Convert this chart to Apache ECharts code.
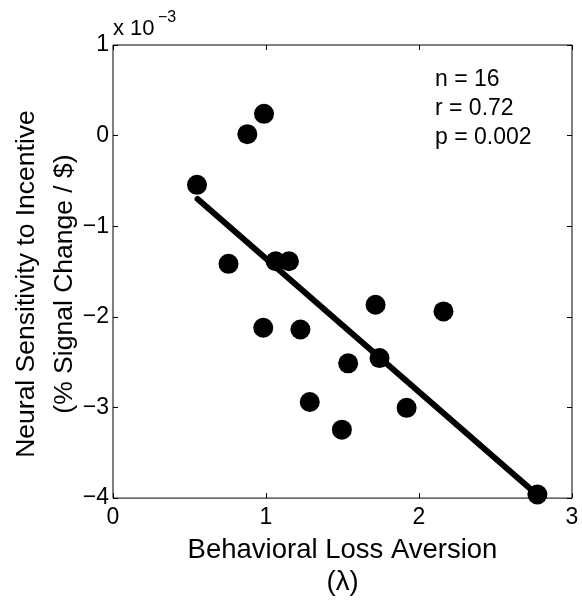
<!DOCTYPE html>
<html>
<head>
<meta charset="utf-8">
<script src="https://cdn.jsdelivr.net/npm/echarts@6/dist/echarts.min.js"></script>
<style>
  html, body { margin: 0; padding: 0; background: #fff; }
  #container { width: 582px; height: 603px; }
</style>
</head>
<body>
<div id="container"></div>
<script>
// loss aversion (lambda) vs neural sensitivity (x 10^-3)
var lossAversion = [0.549, 0.878, 0.987, 0.755, 1.063, 1.150, 0.982, 1.225,
                    1.286, 1.496, 1.537, 1.742, 1.716, 2.160, 1.919, 2.774];
var sensitivity = [-0.543, 0.016, 0.240, -1.415, -1.386, -1.386, -2.120, -2.140,
                   -2.940, -3.245, -2.513, -2.455, -1.866, -1.940, -3.004, -3.960];
// fitted line end points
var fitX = [0.553, 2.757];
var fitY = [-0.70, -3.94];
var statLines = ['n = 16', 'r = 0.72', 'p = 0.002'];

var FONT = '"Liberation Sans", Arial, Helvetica, sans-serif';

function minusFmt(v) {
	return String(v).replace('-', '\u2212');
}

var dom = document.getElementById("container");
var myChart = echarts.init(dom);

var points = lossAversion.map(function (x, i) { return [x, sensitivity[i]]; });
var fit = fitX.map(function (x, i) { return [x, fitY[i]]; });

var tick = { inside: true, length: 5, lineStyle: { color: '#000' } };

var option = {
	backgroundColor: '#fff',
	animation: false,
	textStyle: { fontFamily: FONT },
	grid: {
		left: 113, right: 10, top: 45, bottom: 97,
		show: true, borderColor: '#000', borderWidth: 1, backgroundColor: 'transparent'
	},
	xAxis: [{
		type: 'value', min: 0, max: 3, interval: 1,
		axisLine: { show: false, onZero: false },
		axisTick: tick,
		splitLine: { show: false },
		axisLabel: { color: '#000', fontSize: 23, margin: 8, fontFamily: FONT },
		name: 'Behavioral Loss Aversion\n(\u03bb)',
		nameLocation: 'middle',
		nameGap: 29,
		nameTextStyle: { color: '#000', fontSize: 27.5, lineHeight: 32, fontFamily: FONT }
	}, {
		type: 'value', min: 0, max: 3, interval: 1, position: 'top',
		axisLine: { show: false, onZero: false },
		axisTick: tick,
		splitLine: { show: false },
		axisLabel: { show: false }
	}],
	yAxis: [{
		type: 'value', min: -4, max: 1, interval: 1,
		axisLine: { show: false, onZero: false },
		axisTick: tick,
		splitLine: { show: false },
		axisLabel: { color: '#000', fontSize: 23, margin: 4, fontFamily: FONT, formatter: minusFmt }
	}, {
		type: 'value', min: -4, max: 1, interval: 1, position: 'right',
		axisLine: { show: false, onZero: false },
		axisTick: tick,
		splitLine: { show: false },
		axisLabel: { show: false }
	}],
	graphic: [{
		type: 'text', x: 46, y: 284, rotation: Math.PI / 2,
		style: {
			text: 'Neural Sensitivity to Incentive\n(% Signal Change / $)',
			font: '26.5px ' + FONT, fill: '#000', lineHeight: 38,
			textAlign: 'center', textVerticalAlign: 'middle'
		}
	}, {
		type: 'text', x: 113, y: 29,
		style: {
			text: 'x 10', font: '22px ' + FONT, fill: '#000',
			textAlign: 'left', textVerticalAlign: 'middle'
		}
	}, {
		type: 'text', x: 158, y: 18,
		style: {
			text: '\u22123', font: '16px ' + FONT, fill: '#000',
			textAlign: 'left', textVerticalAlign: 'middle'
		}
	}, {
		type: 'text', x: 435, y: 65.5,
		style: {
			text: statLines.join('\n'),
			font: '23px ' + FONT, fill: '#000', lineHeight: 29,
			textAlign: 'left', textVerticalAlign: 'top'
		}
	}],
	series: [{
		type: 'line',
		data: fit,
		symbol: 'none',
		lineStyle: { color: '#000', width: 6, cap: 'round' },
		z: 2
	}, {
		type: 'scatter',
		data: points,
		symbol: 'circle',
		symbolSize: 20,
		itemStyle: { color: '#000', opacity: 1 },
		z: 3
	}]
};

myChart.setOption(option, true);
</script>
</body>
</html>
